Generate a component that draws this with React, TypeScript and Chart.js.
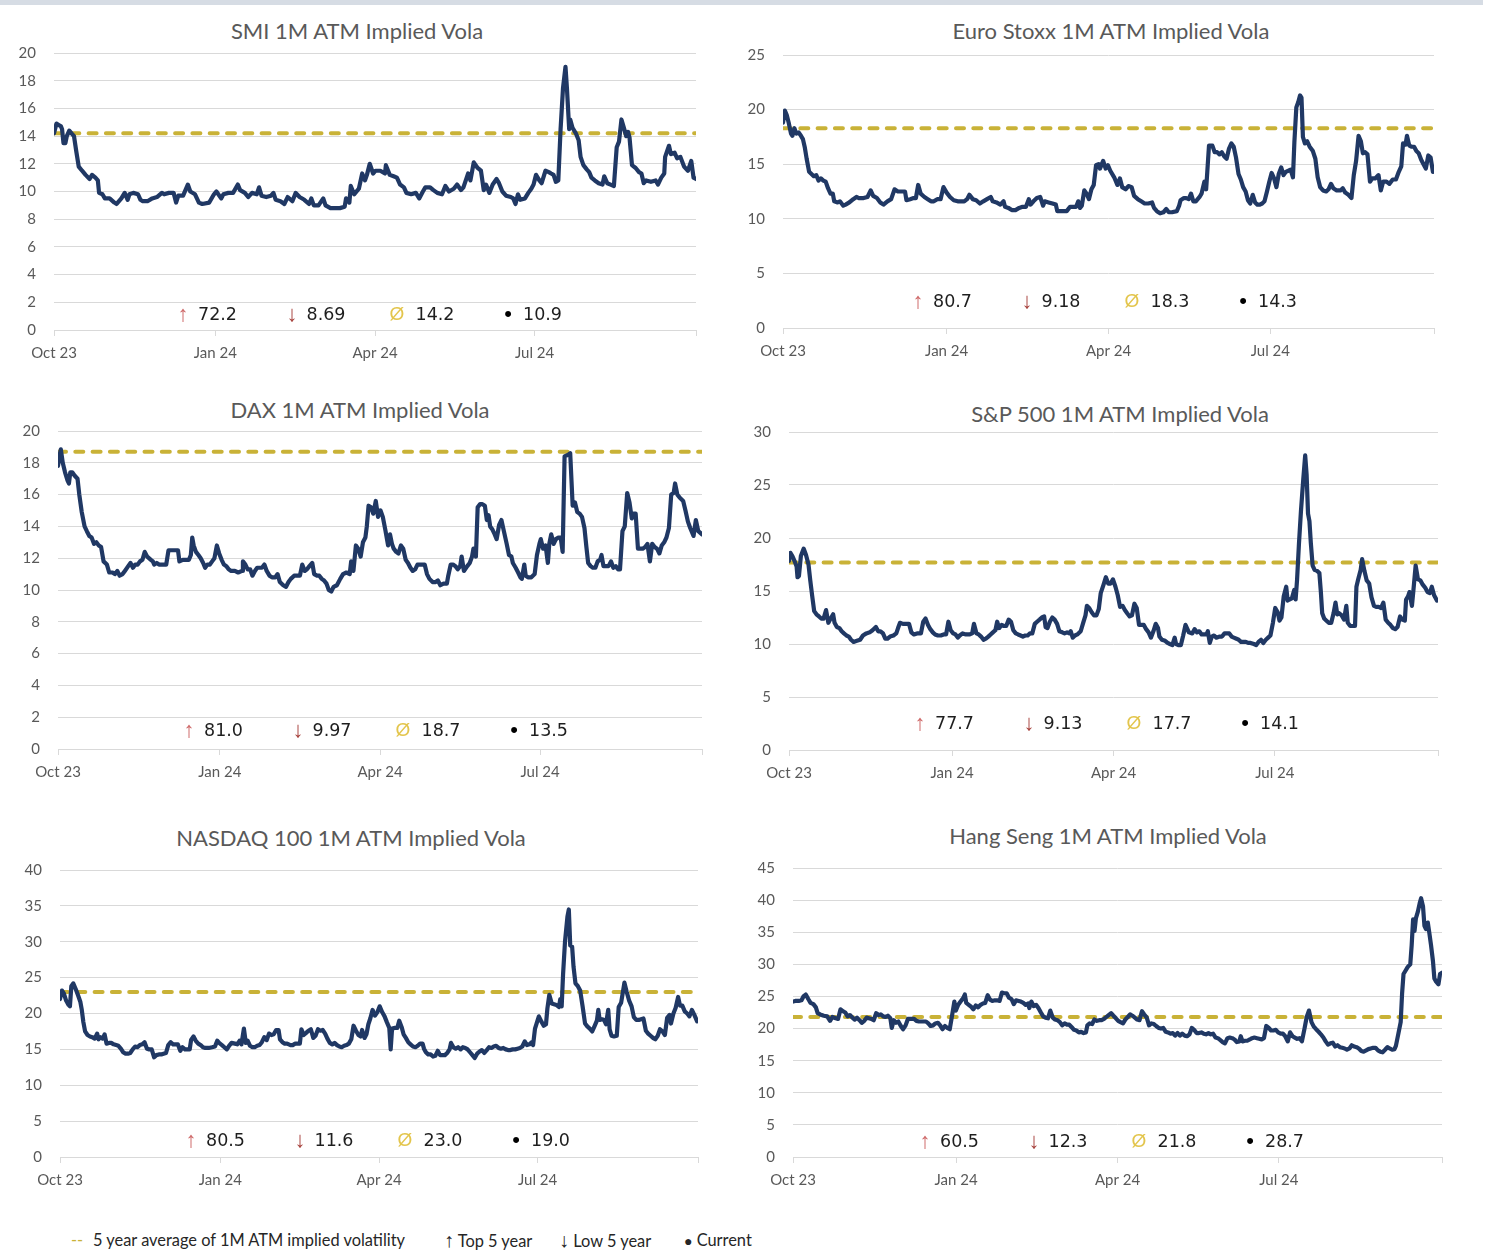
import React, { useEffect, useRef } from 'react';
import { Chart, registerables } from 'chart.js';

Chart.register(...registerables);

// ---------- data ----------
const TICK_DAYS = [0, 92, 183, 274, 366];
const TICK_LABELS = ['Oct 23', 'Jan 24', 'Apr 24', 'Jul 24', ''];

const SMI_DAYS = [0,1.4,2.7,4,4.6,5.4,6.5,7.3,8.7,10,11.4,12.7,14.1,16,18,20.3,21.7,23.6,25,25.7,27.6,29,31.7,34.4,35.7,38.4,40.3,42,43,45.2,47.9,49.3,50.6,53.3,56,58.7,61.5,62.8,65.5,68.2,69.6,70.9,73.6,76.3,77.7,80.4,82.6,84.5,88.5,91.2,92.6,95.3,96.6,99.4,102.1,104.8,106.1,108.8,110.7,112.9,115.6,116.9,118.3,121,123.7,125.1,126.4,129.1,131.3,133.2,135.9,137.8,140,142.7,145.4,146.7,148.1,150.8,153.5,154.8,157.6,160.3,163,165.7,166.5,168.4,169.2,171.1,173.8,175.7,177.3,178.4,180,181.9,183.3,186,188.7,189.2,191.4,193.6,195.5,197.3,199.5,200.9,203.6,206.3,208.2,210.3,211.7,214.4,216.3,218.5,221.2,223.1,225.2,227.9,229.8,232,233.4,236.1,237.4,239.3,241.5,243.4,245,246.3,248.2,250.1,252.3,253.7,255.6,257.7,260.4,261.8,263.1,264.5,265.8,268.5,270.4,272.1,273.4,274.8,276.7,278,280.2,282.1,283.4,284.8,286.1,287.5,288.8,290.2,291.6,292.4,293.7,294.3,295.6,297.5,299.1,300.2,301.8,303.7,305.1,306.4,308.3,310.5,312.7,313.7,315.4,317.3,319.2,320.8,322.1,323.5,324.9,326.2,327.3,328.1,329.5,331.6,333.5,334.9,336.2,337.6,340.3,343,344.3,346.2,347.9,348.4,350.6,351.7,353.8,355.2,357.1,359.2,361.4,363.3,364.6,366];
const SMI_VOLS = [14.2,14.9,14.8,14.7,14.5,13.5,13.5,14.0,14.4,14.2,14.0,12.9,11.8,11.5,11.2,10.9,11.2,11.0,10.8,9.9,9.8,9.5,9.5,9.2,9.1,9.5,9.9,9.4,9.8,9.9,9.8,9.4,9.3,9.3,9.5,9.6,9.9,9.8,9.9,9.9,9.2,9.7,9.7,10.5,10.0,9.8,9.2,9.1,9.2,9.8,10.0,9.5,9.8,9.9,9.9,10.5,10.1,9.9,9.6,9.9,9.8,10.3,9.7,9.6,9.7,9.9,9.4,9.3,9.1,9.6,9.3,9.9,9.6,9.4,9.1,9.5,9.0,9.0,9.5,9.0,8.8,8.8,8.8,8.9,9.5,9.2,10.4,9.8,10.2,11.3,10.8,11.2,12.0,11.3,11.5,11.5,11.3,11.9,11.2,11.1,11.0,10.5,10.3,9.9,9.8,9.9,9.5,10.0,10.3,10.3,10.1,9.9,9.8,10.4,10.0,10.2,10.5,10.1,10.3,11.3,10.8,12.1,11.7,11.5,10.1,10.5,9.9,10.5,10.9,10.6,10.0,9.7,9.6,9.5,9.1,9.8,9.4,9.5,9.9,10.2,10.5,11.2,10.8,10.6,11.5,11.4,11.3,11.2,10.7,10.8,14.5,17.5,19.0,17.5,14.5,15.2,14.6,14.2,13.7,12.5,11.9,11.6,11.4,11.0,10.8,10.6,10.5,11.1,10.6,10.5,10.4,13.2,13.6,15.2,14.6,14.0,14.3,13.9,11.9,11.7,11.4,11.3,10.6,10.8,10.7,10.8,10.5,11.0,11.3,12.5,13.3,12.7,12.8,12.4,12.5,11.8,11.5,12.2,11.0,10.9];

const EU_DAYS = [0,1.1,2.1,3.2,4.5,5.3,6.4,7.5,8.8,10.1,11.2,12.3,13.3,14.7,16,17.3,18.7,20,21.3,22.7,24,25.3,26.7,28,28.8,30.7,32,33.9,35.2,37.3,39.5,41.3,42.7,45.3,47.5,49.3,50.7,52.8,54.7,56.5,58.7,60.8,62.7,64.6,66.7,68.6,69.4,71.5,73.4,74.7,76,77.4,79.5,81.4,83.2,84.8,86.7,88.6,90.2,92,93.9,96,98.2,100,101.9,103.5,104.8,106.7,108.6,110.7,112.6,114.7,116.8,117.9,120,122.2,124,124.8,126.7,128.6,130.7,132.8,134.7,136.6,138.2,139.2,140.8,142.7,144.6,146.2,147.2,149.3,151.5,153.4,154.2,156.1,158,159.5,161.4,163.2,164.8,166,167,168,169.4,170.7,172,173.4,174.7,176,177.4,178.2,180,181.4,182.7,184,186.2,188,189.4,190.7,192.6,194.2,196,197.4,199.5,201.4,203.3,205.4,207.5,208.6,210.2,212,213.9,215.5,216.9,218.7,221.4,222.7,223.5,225.4,226.7,228.1,229.4,230.7,232.1,234.2,235.3,236.9,237.9,238.7,239.5,241.4,242.7,244.1,245.4,246.7,248.1,249.4,250.7,252.1,253.4,254.7,256.1,257.4,258.7,260.1,261.4,262.7,264.1,265.4,266.7,268.1,269.4,270.7,272.1,273.4,274.7,276.1,277.4,278.7,280.1,281.4,282.7,284.1,285.4,286.7,287.5,288.6,289.7,290.7,291.5,292.3,293.4,294.7,296.1,297.9,299.3,300.6,302,303.6,305.4,306.7,308.1,309.4,311.3,313.4,314.7,316.1,317.9,319.6,320.9,322.2,323.6,324.9,326,327.3,328.6,330,331.3,332.9,334.8,336.1,337.4,339.3,340.9,342.8,344.6,346.2,347.6,348.6,350,350.8,352.1,353.5,354.8,356.1,357.4,358.8,360.1,361.4,362.8,364.1,365.4];
const EU_VOLS = [18.8,19.9,19.5,18.8,17.8,17.6,18.3,17.8,17.9,17.6,17.3,16.5,15.5,14.3,14.1,13.9,14.0,13.5,13.7,13.5,13.4,12.8,12.3,12.3,11.6,11.5,11.6,11.2,11.3,11.5,11.8,12.0,11.9,11.9,12.0,12.6,12.1,11.9,11.5,11.3,11.6,11.8,12.7,12.5,12.5,12.5,11.7,11.8,11.9,11.9,13.1,12.3,12.0,11.8,11.6,11.6,11.8,11.8,12.9,12.4,12.0,11.7,11.6,11.6,11.6,11.8,12.2,11.8,11.7,11.4,11.6,11.8,12.0,11.6,11.5,11.3,11.6,11.1,11.0,10.8,10.8,11.0,11.1,11.1,11.8,11.3,11.6,11.9,12.0,11.2,11.6,11.5,11.4,11.3,10.7,10.7,10.7,10.7,11.1,11.1,11.1,11.6,11.0,11.2,12.6,12.3,11.8,12.7,13.1,14.9,15.0,14.6,15.3,14.6,14.9,14.4,13.8,13.1,13.7,12.9,12.7,13.0,12.9,12.1,11.8,11.6,11.4,11.4,11.5,11.0,10.7,10.5,10.6,10.9,10.6,10.6,10.7,11.2,11.7,11.9,11.9,11.8,12.3,11.6,11.6,12.0,12.3,13.4,12.7,14.7,16.7,16.7,16.1,16.1,15.9,16.1,15.7,15.5,16.4,16.9,16.6,15.6,14.1,13.6,12.9,12.5,11.7,11.4,12.2,11.5,11.3,11.3,11.4,11.6,12.5,13.4,14.2,13.7,12.9,14.1,14.7,14.0,14.3,14.4,14.5,13.8,17.0,20.2,20.7,21.3,21.1,17.5,16.9,17.1,16.6,16.2,15.5,13.8,12.9,12.6,12.5,12.7,13.2,12.8,12.6,12.6,12.8,12.4,12.2,11.9,14.0,15.3,17.6,17.1,16.0,16.1,15.9,13.4,13.7,13.7,14.0,12.6,13.4,13.4,13.2,13.6,13.6,14.3,14.8,16.9,16.8,17.6,16.7,16.6,16.6,16.2,16.0,15.4,15.0,14.6,15.8,15.6,14.3];

const DAX_DAYS = [0,0.8,1.6,2.7,4,5.4,6.2,7,8.1,9.4,11.1,12.1,13.5,15.1,16.4,17.8,19.1,20.5,21.8,23.2,24.5,25.9,27.8,29.1,31,32.3,33.7,35,36.7,38,39.9,41.2,42.6,43.9,45.3,46.6,48,49.3,50.7,52.8,53.9,54.7,56.1,57.4,58.8,60.1,61.5,62.8,64.7,66.8,68.2,69,70.9,72.8,74.4,75.5,76.3,77.1,78.4,79.8,81.1,82.5,83.6,84.9,86.3,87.6,88.9,90.3,91.6,93,94.3,95.7,97,98.4,100.5,102.4,104.6,105.1,106.5,107.8,109.2,110.5,111.9,113.2,114.6,115.9,117.3,118.6,120.2,121.6,123.5,124.8,126.1,128,129.6,131,132.3,134.2,136.1,137.5,138.8,140.2,141.5,142.9,144.5,145.6,147.2,148.5,149.9,151.2,152.6,153.9,155.3,156.6,158.5,160.4,162,163.9,165.8,166.6,167.9,169.3,170.6,172,173.3,174.7,175.5,176.5,177.9,179.2,180.6,181.9,183.3,184.6,186,187.6,188.7,189.8,190.8,192.2,193.5,194.9,196.2,197.6,198.9,200.3,201.6,203,204.3,206.5,208.4,209.7,211.1,212.9,214.6,215.9,217.3,219.1,221,221.8,223.2,224.5,225.9,227.2,228.6,229.4,230.7,232.6,234,235.3,236.1,237.5,238.5,239.9,241.2,242.6,243.7,244.7,245.6,246.9,248.2,249.3,250.7,252,253.4,255,256.3,257.7,258.5,260.1,261.5,262.8,263.6,265,265.8,267.1,269,270.9,272.2,273.6,274.4,275.7,277.1,278.4,279.2,280.3,281.7,283,284.4,285.7,286.8,287.9,289.8,291.1,292.5,293.8,295.1,296.5,297.8,299.2,300.3,301.3,302.7,304,305.4,306.7,308.1,308.9,310,311.3,312.9,314.3,315.6,317,318.3,319.4,320.8,322.1,323.5,324.8,326.1,327.2,328.3,329.6,331,332.3,333.7,335,336.4,337.7,339.1,340.4,341.8,343.1,344.5,345.8,347.2,348.5,349.9,350.7,352,353.4,355.3,356.6,358,359.3,361.2,362.5,363.9,366];
const DAX_VOLS = [17.8,18.4,18.85,18.0,17.4,16.9,16.7,17.4,17.4,17.2,17.0,16.0,14.9,14.0,13.7,13.4,13.3,12.9,13.0,12.8,12.7,11.8,11.6,11.1,11.1,11.0,11.2,10.9,11.0,11.2,11.5,11.7,11.4,11.6,11.6,11.8,11.9,12.4,12.1,11.9,11.8,11.6,11.7,11.6,11.6,11.6,11.6,12.5,12.5,12.5,12.5,11.8,11.9,11.9,11.9,12.2,13.3,12.8,12.4,12.2,12.0,11.7,11.4,11.6,11.6,11.8,12.0,12.8,12.3,11.9,11.6,11.5,11.3,11.2,11.2,11.1,11.2,11.8,11.6,11.3,11.3,10.9,11.2,11.4,11.4,11.4,11.6,11.2,10.9,10.8,10.8,11.0,10.5,10.3,10.2,10.5,10.7,10.9,10.9,10.9,11.6,11.2,11.3,11.5,11.7,11.0,10.9,10.9,10.7,10.6,10.4,10.0,9.9,10.2,10.3,10.7,11.0,11.1,11.0,11.8,11.2,12.8,12.6,12.1,13.0,13.3,14.0,15.3,15.2,14.8,15.6,14.6,15.0,14.6,13.8,12.8,13.5,12.9,12.6,12.4,12.3,12.8,12.6,11.9,11.7,11.4,11.2,11.3,11.6,11.6,11.6,11.0,10.7,10.5,10.5,10.6,10.3,10.4,10.4,10.9,11.6,11.6,11.5,11.3,11.5,12.1,11.2,11.5,11.7,12.1,12.6,12.1,15.2,15.4,15.4,15.3,14.4,14.7,14.0,13.8,13.5,13.2,14.1,14.4,13.7,12.9,12.2,12.1,11.7,11.4,11.1,10.8,10.7,11.6,10.9,10.8,10.8,11.0,12.2,12.9,13.2,12.6,12.8,11.7,12.9,13.5,12.9,13.2,13.3,13.3,12.4,18.4,18.5,18.6,15.3,15.5,14.9,14.8,14.6,13.9,12.7,11.7,11.5,11.4,11.4,11.8,11.9,12.2,11.5,11.5,11.5,11.8,11.4,11.5,11.3,11.3,13.7,14.0,16.1,15.5,14.5,14.8,14.8,12.6,12.6,12.6,12.7,12.9,11.8,12.9,12.7,12.6,12.3,12.8,13.0,13.3,13.9,16.0,16.1,16.7,16.0,15.8,15.6,15.0,14.3,13.9,13.4,14.4,13.7,13.5];

const SPX_DAYS = [0,0.8,1.9,3.2,4.3,4.8,5.6,6.7,8.3,9.6,11,12,13.1,14.2,15.5,16.9,18.2,19.5,20.9,22.2,23.5,24.9,25.7,27,28.4,29.7,31,32.4,33.7,35,36.4,38.3,40.1,41.7,43.6,45.5,47.1,49,50.3,51.6,53,54.3,55.6,57,58.9,60.5,61.5,62.6,64.2,65.8,67.7,69,70.4,72.2,74.4,75.7,77,78.4,79.7,81.1,82.4,84,85.6,87.2,88.6,89.9,91.2,92.6,93.9,95.2,96.3,97.9,99.8,101.7,103.3,104.3,105.7,107,108.3,109.7,111,112.4,113.7,115,116.4,117.4,118.5,119.9,121.2,122.5,123.9,125.2,126.5,127.9,129.2,130.6,131.9,133.2,134.6,135.9,137.2,138.6,139.9,141.3,142.6,143.9,144.7,145.8,147.1,148.5,149.8,151.2,152.5,154.1,155.4,156.8,158.1,158.9,160,161.3,162.6,164.5,165.9,167.2,168,169.3,170.7,172,173.4,174.7,175.8,177.4,178.7,180,181.4,182.7,184.1,185.4,186.7,188.1,189.4,190.7,192.1,193.4,194.8,196.1,197.4,198.8,200.1,201.4,202.8,204.1,205.5,206.8,208.1,208.9,210.3,212.1,213.5,214.8,216.2,217.5,218.3,219.6,221,222.3,223.6,224.7,225.5,227.4,228.7,230.1,231.4,232.7,234.1,235.4,236.2,237.3,238.4,239.7,241,242.9,244.2,245.6,246.9,248.3,249.6,250.9,252.3,253.6,254.9,256.3,257.6,259,260.3,262.2,263.5,264.8,266.2,267.5,268.9,270.2,271.5,272.9,274.2,275.6,276.6,277.7,279,280.4,281.2,282.2,283.6,284.9,285.7,286.5,287.6,288.7,290,291.1,291.9,292.7,293.5,294.3,295.3,296.4,297.8,299.1,299.9,300.7,301.8,303.1,304.4,305.8,307.1,308.2,309.2,310.3,311.7,313,314.3,315.1,316.5,317.8,319.2,320,321,322.4,323.2,324.5,325.8,327.2,328.5,329.9,331.2,332.5,333.9,335.2,336.5,337.9,339.2,340.6,341.9,343.2,344.6,345.9,347.3,348,349.1,349.9,351.3,352.1,353.4,354.7,356.1,357.4,358.8,360.1,361.4,362.5,363.8,365.4];
const SPX_VOLS = [17.85,18.6,18.3,17.8,17.3,16.3,16.4,18.3,19.0,18.4,17.5,16.0,14.5,13.1,12.8,12.6,12.4,12.4,13.2,12.0,12.4,12.8,12.0,11.6,11.5,11.2,11.0,10.8,10.7,10.4,10.2,10.3,10.4,10.8,11.0,11.1,11.3,11.6,11.2,11.2,11.0,10.5,10.5,10.7,10.8,11.0,11.5,12.0,11.9,11.9,11.9,11.1,10.9,11.0,11.0,12.1,12.4,11.8,11.4,11.1,10.9,10.8,10.8,10.9,10.9,12.1,11.3,11.0,10.9,10.6,10.8,11.0,10.9,10.9,11.0,11.9,11.0,10.9,10.7,10.4,10.5,10.7,10.9,11.1,11.3,12.1,11.5,11.8,11.7,11.7,12.3,12.1,11.3,11.0,10.9,10.8,10.7,10.8,10.8,11.0,11.0,11.9,12.1,12.3,12.5,12.6,11.6,11.5,12.1,12.5,12.3,11.9,11.2,11.1,11.0,11.1,11.0,11.2,10.6,10.8,10.9,11.2,12.0,12.7,13.6,13.4,13.0,12.7,12.7,13.3,14.8,15.6,16.3,15.7,15.7,16.1,15.4,14.6,13.5,13.6,13.2,12.9,12.6,12.7,13.8,13.4,11.8,11.8,11.8,11.4,11.1,10.6,11.2,11.9,11.5,10.7,10.4,10.3,10.1,10.0,9.9,10.6,10.0,9.9,9.9,10.8,11.8,11.4,11.1,11.0,11.4,11.1,11.2,10.9,10.9,10.9,11.2,10.1,10.7,10.8,10.6,10.7,10.7,11.0,11.0,11.0,10.7,10.6,10.5,10.4,10.2,10.2,10.2,10.1,10.1,10.0,9.9,10.2,10.4,10.1,10.4,10.6,10.8,12.0,13.4,13.0,12.2,12.5,14.5,15.4,14.1,14.2,14.3,15.1,14.2,16.0,19.5,22.5,25.5,27.8,26.0,22.3,21.6,19.5,17.4,17.0,16.9,16.7,15.0,12.9,12.4,12.2,12.0,12.0,12.9,13.9,12.8,12.9,12.7,12.3,13.6,12.0,11.7,11.7,11.7,15.4,16.1,17.0,18.0,16.9,16.0,15.7,14.4,13.6,13.5,13.5,13.4,13.9,12.3,12.0,11.8,11.5,11.4,11.6,12.6,12.3,12.2,14.2,14.5,14.9,13.6,15.0,17.4,16.1,16.0,15.6,15.3,14.9,14.8,15.4,14.6,14.1];

const NDX_DAYS = [0,1.1,2.2,3.5,4.9,5.7,6.5,7.6,9,10.4,11.7,12.5,13.4,14.4,15.8,17.2,18.5,19.9,21.3,22.1,23.2,24.5,25.6,26.7,28.1,29.4,30.8,32.2,33.5,34.9,36.2,37.6,39,40.3,41.7,43.1,44.4,45.8,47.2,48.5,49.9,51.2,52.6,54,55.3,56.7,58.1,59.4,60.8,62.1,63.5,64.9,66.2,67.6,69,70.3,71.7,73,74.4,75.2,76.6,77.9,79.3,80.7,82,83.4,85.3,87.2,88.9,90.2,91.3,92.9,94.3,95.7,97,98.4,100.3,101.7,103,104.1,105.5,106.6,107.7,109,110.4,111.7,113.1,114.5,115.8,117.2,118.6,119.9,121.3,122.6,124,125.4,126.2,127.6,128.9,130.3,132.2,133.5,134.9,136.3,137.6,138.5,139.8,141.2,142.5,143.9,145.3,146.6,148,149.4,150.7,152.1,153.4,154.8,156.2,157.5,158.9,160.3,161.6,163,164.3,165.7,167.1,168.4,169.8,171.2,172.5,173.3,174.7,175.8,176.9,178,179.3,180.7,182.1,183.4,184.8,186.2,187.5,188.9,189.7,190.5,192.2,193.5,194.6,196,197.1,198.4,199.8,201.1,202.5,203.9,205.2,206.6,208,208.8,209.9,211.2,212.6,214,215.3,216.7,218,219.4,220.8,222.1,223.5,224.3,225.7,227,228.4,229.8,231.1,232.5,233.8,235.2,236.6,237.9,239.3,240.7,242,243.4,244.8,246.1,247.5,248.8,250.2,251.6,252.9,254.3,255.7,257,258.4,259.7,261.1,262.5,263.8,265.2,266.6,267.9,269.3,270.6,271.4,272.5,273.4,274.7,276.1,277.5,278.8,279.6,280.7,282.1,283.4,284.8,286.2,287,287.8,288.6,289.7,291.1,291.9,292.7,293.8,294.6,295.7,297.1,298.4,299.8,301.2,302.5,303.9,305.3,306.6,308,308.8,309.6,311,312.1,313.2,314.5,315.3,316.4,317.8,319.4,320.5,321.9,323.8,325.1,326.5,327.9,329.2,330.6,332,333.3,334.7,336.1,337.4,338.8,340.2,341.5,342.9,344.2,345.6,347,348.3,349.7,350.5,351.9,353.2,354.6,355.7,357,358.4,359.8,361.1,362.5,363.9,365.5];
const NDX_VOLS = [22.0,23.2,22.8,21.8,21.2,21.0,23.8,24.2,23.4,22.5,21.6,20.5,18.8,17.5,17.0,16.8,16.7,16.5,17.2,16.4,16.7,16.5,17.1,15.8,15.9,15.9,15.7,15.6,15.5,15.1,14.6,14.4,14.4,14.5,15.0,15.4,15.3,15.6,15.7,16.0,15.1,15.0,15.0,13.9,14.2,14.3,14.3,14.4,14.5,15.6,16.0,15.7,15.7,15.7,14.8,15.3,15.0,15.0,15.0,16.3,16.8,16.2,15.8,15.6,15.3,15.2,15.2,15.3,15.4,16.2,15.9,15.6,15.3,15.0,15.5,15.9,15.8,15.7,16.2,15.7,17.9,15.9,16.2,15.5,15.3,15.3,15.5,15.6,16.0,16.7,16.3,17.2,17.0,17.1,17.7,17.7,16.4,16.0,15.8,15.8,15.6,15.6,15.8,15.8,15.8,17.8,17.0,17.3,17.6,17.8,16.6,16.9,17.8,17.6,17.7,17.2,16.5,15.9,15.7,15.9,15.6,15.4,15.3,15.5,15.6,15.8,16.4,18.3,17.6,17.0,16.8,17.7,16.6,17.1,18.5,19.3,20.5,19.7,20.2,21.0,20.2,19.6,18.8,18.0,15.0,17.9,18.0,18.0,19.0,18.1,17.1,16.6,16.0,15.7,15.4,15.3,15.5,15.8,15.8,15.1,14.6,14.3,14.3,14.0,14.1,14.8,14.2,14.2,14.2,14.5,15.0,15.9,15.3,15.1,15.3,15.0,15.3,15.2,15.0,14.6,14.2,13.8,14.4,14.7,14.9,14.5,14.9,15.3,15.2,15.4,15.5,15.2,15.1,15.2,15.0,14.9,14.9,15.0,15.0,15.1,15.2,15.4,16.1,15.6,15.7,16.0,15.6,17.9,18.6,19.6,18.9,18.3,18.5,20.7,22.6,21.4,21.3,21.2,20.9,22.0,21.0,25.5,30.0,33.5,34.5,29.5,29.3,26.5,24.2,23.8,23.2,21.0,18.6,18.2,17.9,17.5,18.2,19.0,20.5,19.1,19.2,19.1,18.5,20.5,17.8,16.9,16.8,16.9,20.9,21.5,24.3,23.0,21.8,21.0,19.5,19.1,19.1,19.2,19.3,17.6,17.2,16.9,16.6,16.4,16.9,17.8,17.5,17.0,19.4,19.8,18.6,20.0,20.8,22.3,21.1,21.1,20.3,20.0,19.6,20.5,19.8,18.9];

const HSI_DAYS = [0,1.3,3.2,4.8,5.9,7.2,8.6,9.9,11.5,12.9,13.9,15.3,17.4,19.3,20.9,22.2,24.1,25.4,26.8,28.1,29.5,30.8,32.1,33.5,34.8,36.1,37.5,38.8,40.2,41.5,42.8,44.2,45.5,46.9,48.2,49.5,50.9,52.2,53.5,54.9,55.7,56.8,58.1,59.4,60.8,62.1,63.5,64.8,66.9,68.3,69.6,71,72.8,75,76.3,77.6,79,80.3,81.7,83,84.3,85.7,87,88.4,89.7,91,91.8,93.2,94.5,95.9,96.9,97.7,99.1,100.4,101.7,103.1,104.4,105.8,107.1,108.4,109.8,111.1,112.4,113.8,115.1,116.5,117.8,119.1,120.5,121.8,123.2,124.5,125.8,127.2,128.5,129.9,131.2,132.5,133.3,134.4,135.7,137.1,138.4,139.8,141.1,142.4,143.8,145.1,146.5,147.8,149.1,150.5,151.8,153.2,154.5,155.8,157.2,158.5,159.8,161.2,162.5,163.9,165.2,166,167.3,168.7,170,171.4,172.7,174,175.4,176.7,178,179.4,180.7,182.1,183.4,184.7,186.1,187.4,188.8,190.1,191.4,192.8,194.1,195.4,196.8,198.1,199.5,200.8,202.1,203.5,204.8,206.2,207.5,208.8,210.2,211.5,212.9,214.2,215.5,216.9,218.2,219.5,220.9,222.2,223.6,224.9,226.2,227.6,228.9,230.3,231.6,232.9,234.3,235.6,236.9,238.3,239.6,241,242.3,243.6,245,246.3,247.7,249,250.3,251.7,252.5,253.5,254.9,256.2,257.6,258.9,260.2,261.6,262.9,264.3,265.6,266.9,268.3,269.6,271,272.3,273.6,275,276.3,277.6,279,280.3,281.7,283,284.3,285.7,287,288.4,289.7,291,292.4,293.7,295,296.4,297.7,299.1,300.4,301.7,303.1,304.4,305.8,307.1,308.4,309.8,311.1,312.4,313.8,315.1,316.5,317.8,319.1,320.5,321.8,323.2,324.5,325.8,327.2,328.5,329.9,331.2,332.5,333.9,335.2,336.5,337.9,339.2,340,341.4,342.7,343.5,344.3,345.4,346.7,348.1,348.9,349.7,350.5,351.3,352.4,353.4,354.2,355.3,356.1,356.9,358,358.8,359.8,360.9,361.7,362.7,364,364.9,366];
const HSI_VOLS = [24.2,24.3,24.3,24.4,25.0,25.3,24.6,24.0,23.8,23.3,22.4,22.2,22.0,21.9,21.2,21.8,21.6,21.5,23.0,22.7,22.5,21.9,22.1,21.7,21.4,21.7,21.3,20.9,21.2,21.7,21.6,21.5,21.3,22.4,22.1,22.2,21.9,21.8,22.0,21.6,20.1,21.3,20.9,21.1,20.4,19.9,20.5,21.5,21.5,21.5,21.2,21.1,21.1,21.1,20.8,20.4,20.5,20.8,20.9,20.5,19.9,20.4,20.1,19.9,22.0,24.2,22.8,23.7,24.2,24.7,25.3,24.0,23.7,23.4,23.0,23.6,23.3,23.7,23.9,24.0,25.2,24.5,24.3,24.4,24.4,24.3,25.6,25.5,25.5,24.8,24.6,23.8,24.4,24.3,24.2,24.0,23.7,23.9,23.2,24.2,23.5,23.7,23.2,22.5,21.9,21.7,21.6,22.8,21.7,21.4,21.3,21.0,20.5,20.8,20.6,20.6,20.2,19.8,19.7,19.4,19.5,19.3,19.4,20.5,20.8,20.7,21.4,21.2,21.3,21.3,21.5,21.8,22.1,22.4,22.0,21.6,21.2,21.0,20.8,21.4,21.8,22.2,22.0,21.7,21.4,21.3,22.7,22.2,21.7,20.5,20.8,20.7,20.4,20.1,20.0,20.1,19.5,19.4,19.2,19.3,18.9,19.3,18.9,19.2,18.9,18.8,19.1,20.1,19.8,19.3,19.3,19.4,19.2,19.1,19.3,19.1,19.2,18.6,18.5,18.2,17.9,17.7,18.5,18.6,18.5,18.3,17.9,18.0,18.8,18.0,18.1,18.1,18.3,18.5,18.6,18.5,18.4,18.3,18.5,20.4,20.1,19.7,19.7,19.8,19.4,19.2,19.2,18.8,18.0,19.4,18.8,18.6,18.4,18.5,18.0,19.9,21.8,22.8,21.0,20.3,19.9,19.5,19.1,18.6,18.0,17.5,17.7,17.8,17.2,17.4,17.1,17.0,16.9,16.7,16.9,17.4,17.2,17.1,16.9,16.5,16.4,16.6,16.8,16.9,17.0,17.0,16.6,16.4,16.3,16.7,17.1,16.9,16.7,16.8,17.3,19.2,21.0,25.5,28.5,29.0,29.6,30.0,33.0,37.0,35.2,37.2,38.2,39.5,40.3,39.0,36.0,35.5,36.5,35.0,33.0,30.5,27.8,27.3,26.9,28.5,28.7];

const TITLES = ['SMI 1M ATM Implied Vola', 'Euro Stoxx 1M ATM Implied Vola', 'DAX 1M ATM Implied Vola', 'S&P 500 1M ATM Implied Vola', 'NASDAQ 100 1M ATM Implied Vola', 'Hang Seng 1M ATM Implied Vola'];
const AVERAGES = [14.2, 18.3, 18.7, 17.7, 23.0, 21.8];
const Y_MAX = [20, 25, 20, 30, 40, 45];
const Y_STEP = [2, 5, 2, 5, 5, 5];
const STAT_TOP = ['72.2', '80.7', '81.0', '77.7', '80.5', '60.5'];
const STAT_LOW = ['8.69', '9.18', '9.97', '9.13', '11.6', '12.3'];
const STAT_AVG = ['14.2', '18.3', '18.7', '17.7', '23.0', '21.8'];
const STAT_CUR = ['10.9', '14.3', '13.5', '14.1', '19.0', '28.7'];
const SERIES_DAYS = [SMI_DAYS, EU_DAYS, DAX_DAYS, SPX_DAYS, NDX_DAYS, HSI_DAYS];
const SERIES_VOLS = [SMI_VOLS, EU_VOLS, DAX_VOLS, SPX_VOLS, NDX_VOLS, HSI_VOLS];

// ---------- layout / style ----------
const NAVY = '#203864';
const GOLD = '#c9b237';
const GRID = '#d9d9d9';
const TICK_COLOR = '#595959';
const TOP_OFFSET = 26; // canvas top -> chart area top (observed)
const PAD_RIGHT = 16;
const X_AXIS_H = 40;

// plot left x / top y, y-axis width, plot width & height, title centre, stats row
const BOXES = [
  { left: 0, T: 52, yw: 54, pw: 642, ph: 278, tx: 357, ty: 31, sx: 183, sy: 314 },
  { left: 745, T: 54, yw: 38, pw: 651, ph: 274, tx: 1111, ty: 31, sx: 918, sy: 301 },
  { left: 0, T: 430, yw: 58, pw: 644, ph: 319, tx: 360, ty: 410, sx: 189, sy: 730 },
  { left: 745, T: 431, yw: 44, pw: 649, ph: 319, tx: 1120, ty: 414, sx: 920, sy: 723 },
  { left: 0, T: 869, yw: 60, pw: 638, ph: 288, tx: 351, ty: 838, sx: 191, sy: 1140 },
  { left: 745, T: 867, yw: 48, pw: 649, ph: 290, tx: 1108, ty: 836, sx: 925, sy: 1141 },
];

function VolChart({ idx }: { idx: number }) {
  const ref = useRef<HTMLCanvasElement>(null);
  const b = BOXES[idx];
  const width = b.yw + b.pw + PAD_RIGHT;
  const height = TOP_OFFSET + b.ph + X_AXIS_H;
  useEffect(() => {
    const days = SERIES_DAYS[idx];
    const vols = SERIES_VOLS[idx];
    const n = Math.min(days.length, vols.length);
    const pts: { x: number; y: number }[] = [];
    for (let i = 0; i < n; i++) pts.push({ x: days[i], y: vols[i] });
    const avg = AVERAGES[idx];
    const chart = new Chart(ref.current as HTMLCanvasElement, {
      type: 'line',
      data: {
        datasets: [
          { data: pts, borderColor: NAVY, borderWidth: 4.2, pointRadius: 0, tension: 0, borderJoinStyle: 'round', borderCapStyle: 'round', fill: false },
          { data: [{ x: TICK_DAYS[0], y: avg }, { x: TICK_DAYS[TICK_DAYS.length - 1], y: avg }], borderColor: GOLD, borderWidth: 4, borderDash: [8, 9.3], borderCapStyle: 'round', pointRadius: 0, fill: false },
        ],
      } as any,
      options: {
        animation: false,
        responsive: false,
        devicePixelRatio: 1,
        layout: { padding: { top: 12, right: PAD_RIGHT, left: 0, bottom: 0 } },
        plugins: { legend: { display: false }, tooltip: { enabled: false }, title: { display: false } },
        scales: {
          x: {
            type: 'linear',
            min: TICK_DAYS[0],
            max: TICK_DAYS[TICK_DAYS.length - 1],
            afterBuildTicks: (s: any) => { s.ticks = TICK_DAYS.map((v) => ({ value: v })); },
            afterFit: (s: any) => { s.height = X_AXIS_H; },
            ticks: {
              autoSkip: false, maxRotation: 0, minRotation: 0, padding: 8,
              color: TICK_COLOR, font: { family: 'Lato', size: 15 },
              callback: (v: any) => { const k = TICK_DAYS.indexOf(Number(v)); return k >= 0 ? TICK_LABELS[k] : ''; },
            },
            grid: { drawOnChartArea: false, drawTicks: true, tickLength: 6, color: GRID, lineWidth: 1 },
            border: { display: true, color: GRID, width: 1 },
          },
          y: {
            min: 0,
            max: Y_MAX[idx],
            afterFit: (s: any) => { s.width = b.yw; },
            ticks: { stepSize: Y_STEP[idx], padding: 18, color: TICK_COLOR, font: { family: 'Lato', size: 15 } },
            grid: { drawTicks: false, color: GRID, lineWidth: 1 },
            border: { display: false },
          },
        },
      } as any,
    });
    return () => chart.destroy();
  }, [idx]);
  return (
    <canvas ref={ref} width={width} height={height}
      style={{ position: 'absolute', left: b.left, top: b.T - TOP_OFFSET, width, height }} />
  );
}

function Stats({ idx }: { idx: number }) {
  const b = BOXES[idx];
  const base: React.CSSProperties = { position: 'absolute', top: b.sy - 12, height: 24, lineHeight: '24px', whiteSpace: 'nowrap' };
  const val: React.CSSProperties = { ...base, fontFamily: 'DejaVu Sans', fontSize: 17.5, color: '#1e1e1e' };
  const mid: React.CSSProperties = { transform: 'translateX(-50%)' };
  return (
    <>
      <div style={{ ...base, ...mid, left: b.sx, fontFamily: 'Liberation Sans', fontSize: 22, color: '#cf6a6a' }}>↑</div>
      <div style={{ ...val, left: b.sx + 15 }}>{STAT_TOP[idx]}</div>
      <div style={{ ...base, ...mid, left: b.sx + 109, fontFamily: 'Liberation Sans', fontSize: 22, color: '#a8443f' }}>↓</div>
      <div style={{ ...val, left: b.sx + 123.5 }}>{STAT_LOW[idx]}</div>
      <div style={{ ...base, ...mid, left: b.sx + 214, fontFamily: 'Liberation Sans', fontSize: 19, color: '#e3c54c' }}>Ø</div>
      <div style={{ ...val, left: b.sx + 232.5 }}>{STAT_AVG[idx]}</div>
      <div style={{ ...base, ...mid, left: b.sx + 325, fontFamily: 'Liberation Sans', fontSize: 22, color: '#000' }}>•</div>
      <div style={{ ...val, left: b.sx + 340 }}>{STAT_CUR[idx]}</div>
    </>
  );
}

export default function App() {
  const legendBase: React.CSSProperties = { position: 'absolute', top: 1228, height: 24, lineHeight: '24px', whiteSpace: 'nowrap', fontFamily: 'Lato', fontSize: 16.4, color: '#262626' };
  return (
    <div style={{ position: 'absolute', left: 0, top: 0, width: 1489, height: 1250, background: '#fff', overflow: 'hidden' }}>
      <div style={{ position: 'absolute', left: 0, top: 0, width: 1483, height: 5, background: '#d6dce4' }} />
      {BOXES.map((b, i) => (
        <React.Fragment key={i}>
          <div style={{ position: 'absolute', left: b.tx, top: b.ty - 15, height: 30, lineHeight: '30px', transform: 'translateX(-50%)', whiteSpace: 'nowrap', fontFamily: 'Lato', fontSize: 22, color: '#595959' }}>{TITLES[i]}</div>
          <VolChart idx={i} />
          <Stats idx={i} />
        </React.Fragment>
      ))}
      <div style={{ ...legendBase, left: 71, color: GOLD }}>--</div>
      <div style={{ ...legendBase, left: 93 }}>5 year average of 1M ATM implied volatility</div>
      <div style={{ ...legendBase, left: 444 }}><span style={{ fontFamily: 'Liberation Sans', fontSize: 20 }}>↑</span> Top 5 year</div>
      <div style={{ ...legendBase, left: 559 }}><span style={{ fontFamily: 'Liberation Sans', fontSize: 20 }}>↓</span> Low 5 year</div>
      <div style={{ ...legendBase, left: 684 }}><span style={{ fontFamily: 'Liberation Sans', fontSize: 14 }}>●</span> Current</div>
    </div>
  );
}
